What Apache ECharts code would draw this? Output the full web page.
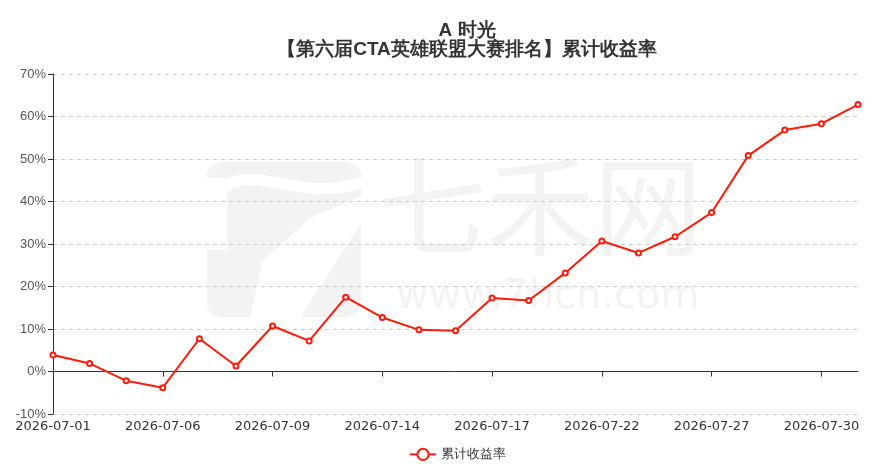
<!DOCTYPE html>
<html>
<head>
<meta charset="utf-8">
<title>A 时光 累计收益率</title>
<script src="https://cdn.jsdelivr.net/npm/echarts@6/dist/echarts.min.js"></script>
<style>
  html, body { margin: 0; padding: 0; background: #fff; }
  #main { width: 878px; height: 468px; }
</style>
</head>
<body>
<div id="main"></div>
<script>
// trading days, July 2026
const dates = [
    '2026-07-01', '2026-07-02', '2026-07-03',
    '2026-07-06', '2026-07-07', '2026-07-08', '2026-07-09', '2026-07-10',
    '2026-07-13', '2026-07-14', '2026-07-15', '2026-07-16', '2026-07-17',
    '2026-07-20', '2026-07-21', '2026-07-22', '2026-07-23', '2026-07-24',
    '2026-07-27', '2026-07-28', '2026-07-29', '2026-07-30', '2026-07-31'
];

// cumulative return, %
const cumReturn = [
    3.9, 1.9, -2.2,
    -3.8, 7.7, 1.3, 10.7, 7.2,
    17.5, 12.7, 9.8, 9.6, 17.3,
    16.7, 23.2, 30.7, 27.9, 31.7,
    37.4, 50.8, 56.8, 58.3, 62.8
];

const seriesName = '累计收益率';
const titleText = 'A 时光\n【第六届CTA英雄联盟大赛排名】累计收益率';

const wmColor = '#f3f3f3';

const myChart = echarts.init(document.getElementById('main'));

const option = {
    animation: false,
    backgroundColor: '#fff',
    title: {
        text: titleText,
        left: 462,
        top: 16,
        textAlign: 'center',
        textStyle: {
            fontSize: 19,
            fontWeight: 'bold',
            color: '#333',
            lineHeight: 19
        }
    },
    legend: {
        bottom: 2,
        left: 404,
        itemWidth: 26,
        itemHeight: 14,
        itemGap: 6,
        textStyle: { color: '#333', fontSize: 13 },
        data: [seriesName]
    },
    // watermark
    graphic: [
        {
            type: 'rect', z: -10, silent: true,
            shape: { x: 207, y: 162, width: 154, height: 155, r: 14 },
            style: { fill: wmColor }
        },
        {
            type: 'rect', z: -9, silent: true,
            shape: { x: 205, y: 178, width: 22, height: 72 },
            style: { fill: '#fff' }
        },
        {
            type: 'bezierCurve', z: -9, silent: true,
            shape: { x1: 222, y1: 192, cpx1: 245, cpy1: 158, cpx2: 300, cpy2: 205, x2: 362, y2: 182 },
            style: { stroke: '#fff', lineWidth: 11, fill: 'none' }
        },
        {
            type: 'polygon', z: -9, silent: true,
            shape: { points: [[362, 196], [362, 222], [300, 318], [250, 318], [262, 262], [310, 218]] },
            style: { fill: '#fff' }
        },
        {
            type: 'text', z: -10, silent: true,
            left: 378, top: 152,
            style: { text: '七禾网', fill: wmColor, fontSize: 108, fontFamily: 'Noto Sans CJK SC' }
        },
        {
            type: 'text', z: -10, silent: true,
            left: 396, top: 278,
            style: { text: 'www.7hcn.com', fill: wmColor, fontSize: 40, fontFamily: 'DejaVu Sans' }
        }
    ],
    grid: {
        left: 53,
        right: 20,
        top: 74,
        bottom: 54
    },
    xAxis: [
        {
            type: 'category',
            data: dates,
            boundaryGap: false,
            axisLine: { onZero: true, lineStyle: { color: '#333' } },
            axisTick: { interval: 2, length: 5, lineStyle: { color: '#333' } },
            axisLabel: { show: false },
            splitLine: { show: false }
        },
        {
            type: 'category',
            data: dates,
            position: 'bottom',
            boundaryGap: false,
            axisLine: { show: false, onZero: false },
            axisTick: { show: false },
            axisLabel: {
                interval: 2,
                color: '#333',
                fontSize: 13,
                fontFamily: 'DejaVu Sans',
                margin: 6
            },
            splitLine: { show: false }
        }
    ],
    yAxis: {
        type: 'value',
        min: -10,
        max: 70,
        interval: 10,
        axisLine: { show: true, lineStyle: { color: '#333' } },
        axisTick: { show: true, length: 5, lineStyle: { color: '#333' } },
        axisLabel: {
            formatter: '{value}%',
            color: '#555',
            fontSize: 13,
            margin: 7
        },
        splitLine: {
            lineStyle: { color: '#ccc', type: [4, 4] }
        }
    },
    series: [{
        name: seriesName,
        type: 'line',
        xAxisIndex: 0,
        data: cumReturn,
        symbol: 'emptyCircle',
        symbolSize: 5,
        showAllSymbol: true,
        lineStyle: { color: '#ff1a0a', width: 2 },
        itemStyle: { color: '#ff1a0a', borderWidth: 1 }
    }]
};

myChart.setOption(option);
</script>
</body>
</html>
